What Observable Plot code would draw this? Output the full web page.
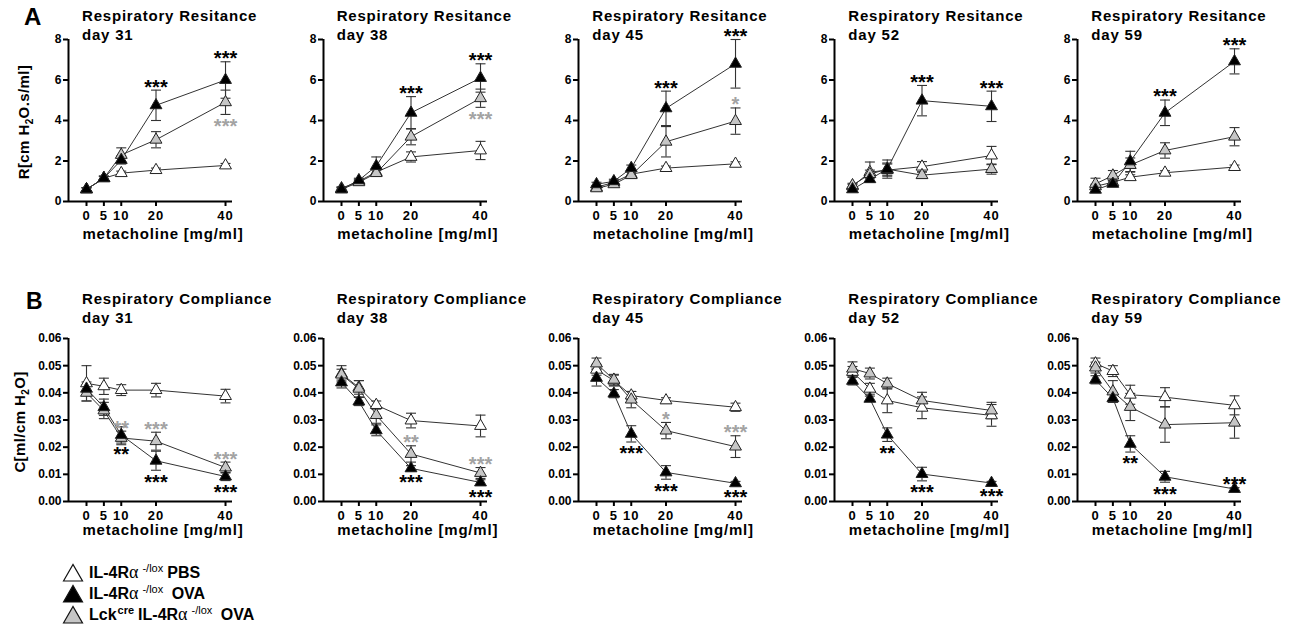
<!DOCTYPE html>
<html>
<head>
<meta charset="utf-8">
<script src="https://cdn.jsdelivr.net/npm/d3@7"></script>
<script src="https://cdn.jsdelivr.net/npm/@observablehq/plot@0.6"></script>
<style>
  body { margin: 0; background: #fff; }
  #root { position: relative; width: 1302px; height: 633px; overflow: hidden; background: #fff;
          font-family: "Liberation Sans", Arial, sans-serif; font-weight: bold; color: #000; }
  .abs { position: absolute; white-space: nowrap; }
  .title { font-size: 15px; line-height: 19px; letter-spacing: 0.8px; }
  .xlab { font-size: 15px; letter-spacing: 0.8px; transform: translate(-50%, -50%); }
  .ylab { font-size: 15px; letter-spacing: 0.4px; transform: translate(-50%, -50%) rotate(-90deg); }
  .plab { font-size: 24px; line-height: 24px; }
  .panel svg g[aria-label="x-axis tick label"] text { letter-spacing: 1px; }
  .legend { position: absolute; left: 62px; top: 562px; font-size: 16px; }
  .legend .row { display: flex; align-items: center; height: 21px; }
  .legend svg { margin-right: 5px; }
  .alpha { font-family: "Liberation Serif", "DejaVu Serif", serif; font-weight: normal; font-size: 18px; }
  .legend sup { font-size: 11px; font-weight: normal; vertical-align: 6px; margin: 0 4px 0 4px; }
</style>
</head>
<body>
<div id="root"></div>
<script>
// ---------------- DATA ----------------
const days = [31, 38, 45, 52, 59];
const doses = [0, 5, 10, 20, 40];
const groupKeys = ["PBS", "Lck", "OVA"];

const resTicks = [0, 2, 4, 6, 8];
const compTicks = [0, 0.01, 0.02, 0.03, 0.04, 0.05, 0.06];

// Respiratory resistance R [cm H2O.s/ml]; rows = days, columns = doses
const resPBS = [
  [0.6, 1.15, 1.4, 1.55, 1.78],
  [0.65, 1.0, 1.45, 2.2, 2.52],
  [0.7, 0.95, 1.35, 1.65, 1.86],
  [0.75, 1.45, 1.55, 1.72, 2.27],
  [0.75, 0.95, 1.2, 1.42, 1.7]
];
const resPBSErr = [
  [0.08, 0.1, 0.1, 0.1, 0.1],
  [0.08, 0.1, 0.15, 0.25, 0.45],
  [0.08, 0.1, 0.1, 0.1, 0.1],
  [0.1, 0.5, 0.3, 0.25, 0.45],
  [0.1, 0.1, 0.12, 0.1, 0.1]
];
const resOVA = [
  [0.6, 1.15, 2.05, 4.75, 6.0],
  [0.6, 1.05, 1.75, 4.38, 6.1],
  [0.85, 1.0, 1.65, 4.6, 6.8],
  [0.6, 1.1, 1.6, 4.98, 4.7],
  [0.58, 0.87, 1.98, 4.38, 6.92]
];
const resOVAErr = [
  [0.08, 0.1, 0.2, 0.75, 0.9],
  [0.08, 0.1, 0.45, 0.8, 0.7],
  [0.1, 0.1, 0.15, 0.85, 1.2],
  [0.08, 0.1, 0.3, 0.75, 0.75],
  [0.08, 0.1, 0.5, 0.63, 0.62]
];
const resLck = [
  [0.6, 1.15, 2.3, 3.05, 4.9],
  [0.6, 0.95, 1.4, 3.2, 5.1],
  [0.65, 0.85, 1.3, 2.95, 3.97],
  [0.8, 1.35, 1.6, 1.3, 1.6],
  [0.87, 1.28, 1.8, 2.52, 3.2]
];
const resLckErr = [
  [0.08, 0.1, 0.35, 0.4, 0.6],
  [0.08, 0.1, 0.15, 0.4, 0.45],
  [0.08, 0.1, 0.15, 0.75, 0.65],
  [0.1, 0.2, 0.45, 0.15, 0.25],
  [0.28, 0.25, 0.35, 0.38, 0.45]
];

// Respiratory compliance C [ml/cm H2O]
const compPBS = [
  [0.0435, 0.0424, 0.041, 0.041, 0.0388],
  [0.047, 0.042, 0.0355, 0.0298, 0.0278],
  [0.0485, 0.0445, 0.039, 0.0372, 0.0347],
  [0.0477, 0.0415, 0.0372, 0.0345, 0.0317],
  [0.0508, 0.048, 0.0393, 0.0384, 0.0354]
];
const compPBSErr = [
  [0.0065, 0.003, 0.002, 0.0025, 0.0025],
  [0.003, 0.0025, 0.0015, 0.0027, 0.004],
  [0.002, 0.002, 0.0015, 0.001, 0.0015],
  [0.002, 0.002, 0.0045, 0.004, 0.004],
  [0.002, 0.002, 0.0035, 0.0035, 0.0035]
];
const compOVA = [
  [0.0415, 0.0347, 0.0245, 0.015, 0.0092],
  [0.0438, 0.0368, 0.0262, 0.0122, 0.007],
  [0.0455, 0.0397, 0.0249, 0.0107, 0.0067],
  [0.0444, 0.0378, 0.0246, 0.0101, 0.0068],
  [0.0448, 0.038, 0.0212, 0.0091, 0.0046]
];
const compOVAErr = [
  [0.0025, 0.003, 0.003, 0.0035, 0.0015],
  [0.002, 0.0015, 0.002, 0.001, 0.001],
  [0.003, 0.0015, 0.003, 0.0025, 0.0007],
  [0.0015, 0.001, 0.0025, 0.0025, 0.0006],
  [0.0015, 0.0015, 0.003, 0.002, 0.0005]
];
const compLck = [
  [0.04, 0.0335, 0.0234, 0.0222, 0.0125],
  [0.0467, 0.0415, 0.0318, 0.0175, 0.0105],
  [0.0508, 0.0448, 0.0375, 0.0261, 0.0202],
  [0.0489, 0.0471, 0.0434, 0.0372, 0.0335],
  [0.0493, 0.0405, 0.0348, 0.0283, 0.029]
];
const compLckErr = [
  [0.003, 0.003, 0.0025, 0.0033, 0.002],
  [0.002, 0.003, 0.003, 0.003, 0.002],
  [0.002, 0.002, 0.003, 0.003, 0.004],
  [0.0025, 0.002, 0.002, 0.003, 0.003],
  [0.002, 0.004, 0.005, 0.0065, 0.0057]
];

// significance marks: [day, dose, group, text, side]
const resStars = [
  [31, 20, "OVA", "***", "above"], [31, 40, "OVA", "***", "above"], [31, 40, "Lck", "***", "below"],
  [38, 20, "OVA", "***", "above"], [38, 40, "OVA", "***", "above"], [38, 40, "Lck", "***", "below"],
  [45, 20, "OVA", "***", "above"], [45, 40, "OVA", "***", "above"], [45, 40, "Lck", "*", "above"],
  [52, 20, "OVA", "***", "above"], [52, 40, "OVA", "***", "above"],
  [59, 20, "OVA", "***", "above"], [59, 40, "OVA", "***", "above"]
];
const compStars = [
  [31, 10, "Lck", "**", "above"], [31, 20, "Lck", "***", "above"], [31, 40, "Lck", "***", "above"],
  [31, 10, "OVA", "**", "below"], [31, 20, "OVA", "***", "below"], [31, 40, "OVA", "***", "below"],
  [38, 20, "Lck", "**", "above"], [38, 40, "Lck", "***", "above"],
  [38, 20, "OVA", "***", "below"], [38, 40, "OVA", "***", "below"],
  [45, 20, "Lck", "*", "above"], [45, 40, "Lck", "***", "above"],
  [45, 10, "OVA", "***", "below"], [45, 20, "OVA", "***", "below"], [45, 40, "OVA", "***", "below"],
  [52, 10, "OVA", "**", "below"], [52, 20, "OVA", "***", "below"], [52, 40, "OVA", "***", "below"],
  [59, 10, "OVA", "**", "below"], [59, 20, "OVA", "***", "below"], [59, 40, "OVA", "***", "above"]
];

// ---------------- STYLE / LAYOUT ----------------
const fillOf = {PBS: "#ffffff", OVA: "#000000", Lck: "#c6c6c6"};
const starColor = {OVA: "#000000", Lck: "#a3a3a3"};
const colX0 = [86, 340.7, 596.3, 852.3, 1095.3]; // pixel of dose 0 in each column
const ML = 40, MR = 10, FRAME_W = 164;

const capSymbol = {
  draw(ctx, size) { const w = Math.sqrt(size / Math.PI); ctx.moveTo(-w, 0); ctx.lineTo(w, 0); }
};

const root = document.getElementById("root");
function addDiv(cls, html, left, top) {
  const d = document.createElement("div");
  d.className = "abs " + cls;
  d.innerHTML = html;
  d.style.left = left + "px";
  d.style.top = top + "px";
  root.appendChild(d);
  return d;
}

function makePanel(kind, di) {
  const isR = kind === "R";
  const src = isR
    ? {PBS: [resPBS, resPBSErr], OVA: [resOVA, resOVAErr], Lck: [resLck, resLckErr]}
    : {PBS: [compPBS, compPBSErr], OVA: [compOVA, compOVAErr], Lck: [compLck, compLckErr]};
  const rows = groupKeys.flatMap(g => doses.map((dose, i) => ({
    group: g, dose, mean: src[g][0][di][i], err: src[g][1][di][i]
  })));
  const stars = (isR ? resStars : compStars).filter(s => s[0] === days[di]).map(([day, dose, group, text, side]) => {
    const r = rows.find(q => q.group === group && q.dose === dose);
    return {...r, text, side};
  });
  const marginTop = isR ? 39 : 58;
  const frameH = isR ? 162 : 163;
  const plot = Plot.plot({
    width: ML + FRAME_W + MR,
    height: marginTop + frameH + 30,
    marginLeft: ML, marginRight: MR, marginTop, marginBottom: 30,
    x: {domain: [-5.18, 42.01]},
    y: {domain: isR ? [0, 8] : [0, 0.06]},
    color: {type: "identity"},
    style: {background: "transparent", overflow: "visible", fontFamily: "'Liberation Sans', Arial, sans-serif"},
    marks: [
      Plot.axisY({ticks: isR ? resTicks : compTicks, tickSize: 5, tickPadding: 2, strokeWidth: 2,
        tickFormat: isR ? (d => String(d)) : d3.format(".2f"), fontSize: 12, fontWeight: "bold", label: null}),
      Plot.axisX({ticks: doses, tickSize: 5, tickPadding: 4, strokeWidth: 2,
        tickFormat: d => String(d), fontSize: 13, fontWeight: "bold", label: null}),
      Plot.ruleX([-5.18], {stroke: "#000", strokeWidth: 2}),
      Plot.ruleY([0], {stroke: "#000", strokeWidth: 2}),
      Plot.line(rows, {x: "dose", y: "mean", z: "group", stroke: "#333", strokeWidth: 1}),
      Plot.ruleX(rows, {x: "dose", y1: d => d.mean - d.err, y2: d => d.mean + d.err, stroke: "#333", strokeWidth: 1.1}),
      Plot.dot(rows, {x: "dose", y: d => d.mean + d.err, symbol: capSymbol, r: 5, fill: "none", stroke: "#333", strokeWidth: 1.1}),
      Plot.dot(rows, {x: "dose", y: d => d.mean - d.err, symbol: capSymbol, r: 5, fill: "none", stroke: "#333", strokeWidth: 1.1}),
      Plot.dot(rows, {x: "dose", y: "mean", symbol: "triangle", r: 4.4, fill: d => fillOf[d.group], stroke: "#222", strokeWidth: 1}),
      Plot.text(stars.filter(s => s.side === "above"), {x: "dose", y: d => d.mean + d.err, text: "text",
        fill: d => starColor[d.group], fontSize: 20, fontWeight: "bold", dy: -3}),
      Plot.text(stars.filter(s => s.side === "below"), {x: "dose", y: d => d.mean - d.err, text: "text",
        fill: d => starColor[d.group], fontSize: 20, fontWeight: "bold", dy: 12})
    ]
  });
  const wrap = document.createElement("div");
  wrap.className = "abs panel";
  wrap.style.left = (colX0[di] - 18 - ML) + "px";
  wrap.style.top = (isR ? 0 : 280) + "px";
  wrap.style.width = (ML + FRAME_W + MR) + "px";
  wrap.appendChild(plot);
  root.appendChild(wrap);
}

days.forEach((day, di) => {
  makePanel("R", di);
  makePanel("C", di);
  addDiv("title", "Respiratory Resitance<br>day " + day, colX0[di] - 4, 6);
  addDiv("title", "Respiratory Compliance<br>day " + day, colX0[di] - 4, 288.7);
  addDiv("xlab", "metacholine [mg/ml]", colX0[di] + 77, 233);
  addDiv("xlab", "metacholine [mg/ml]", colX0[di] + 77, 529);
});

addDiv("plab", "A", 24, 5);
const pb = addDiv("plab", "B", 26, 289); pb.style.fontSize = "23px";
addDiv("ylab", "R[cm H<sub style='font-size:10px'>2</sub>O.s/ml]", 25, 122);
addDiv("ylab", "C[ml/cm H<sub style='font-size:10px'>2</sub>O]", 21, 422);

// legend
const legendItems = [
  {fill: fillOf.PBS, html: "IL-4R<span class='alpha'>α</span><sup>-/lox</sup>PBS"},
  {fill: fillOf.OVA, html: "IL-4R<span class='alpha'>α</span><sup>-/lox</sup>&nbsp;OVA"},
  {fill: fillOf.Lck, html: "Lck<sup style='vertical-align:6px;font-weight:bold;margin:0 4px 0 1px'>cre</sup>IL-4R<span class='alpha'>α</span><sup>-/lox</sup>&nbsp;OVA"}
];
const lg = document.createElement("div");
lg.className = "legend";
legendItems.forEach(it => {
  const row = document.createElement("div");
  row.className = "row";
  row.innerHTML = `<svg width="22" height="19"><polygon points="1.5,18 11,1.5 20.5,18" fill="${it.fill}" stroke="#111" stroke-width="1.2"/></svg><span>${it.html}</span>`;
  lg.appendChild(row);
});
root.appendChild(lg);
</script>
</body>
</html>
